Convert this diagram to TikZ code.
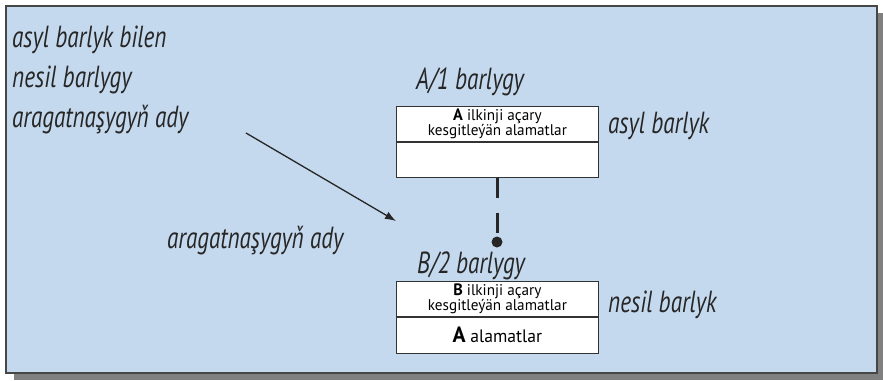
\documentclass[tikz,border=0pt]{standalone}
\usepackage{fontspec}
\setmainfont{PT Sans}[FakeStretch=0.76]
\newfontfamily\boxfont{PT Sans}[FakeStretch=0.98]
\usepackage{tikz}
\usetikzlibrary{arrows.meta,positioning}
\definecolor{panelblue}{RGB}{197,217,238}
\definecolor{shadowgray}{RGB}{128,128,128}
\definecolor{edgegray}{RGB}{70,70,70}
\tikzset{
  bigtxt/.style={font=\fontsize{30.5}{34}\selectfont\itshape, text=black!85, inner sep=0pt},
  keybox/.style={draw=black!80, fill=white, line width=0.8pt, minimum width=202pt, minimum height=35pt, inner sep=0pt, align=center, font=\boxfont\fontsize{15.5}{13.5}\selectfont},
  attrbox/.style={keybox, minimum height=36pt, font=\boxfont\fontsize{18}{18}\selectfont},
  arrow/.style={-{Latex[length=11pt,width=8pt]}, line width=1.3pt, black!85},
  link/.style={line width=3pt, black!85, dash pattern=on 20pt off 15pt},
  dot/.style={circle, fill=black!85, minimum size=11pt, inner sep=0pt}
}

\begin{document}
\begin{tikzpicture}[x=1pt, y=-1pt]
\useasboundingbox (0,0) rectangle (883,380);
% panel
\fill[shadowgray] (14,13) rectangle (883,380);
\draw[edgegray, fill=panelblue, line width=1.5pt] (6,6) rectangle (877,373);
% left texts
\node[bigtxt, anchor=base west] (t1) at (12,47) {asyl barlyk bilen};
\node[bigtxt, anchor=base west] (t2) at (12,87) {nesil barlygy};
\node[bigtxt, anchor=base west] (t3) at (12,127) {aragatnaşygyň ady};
\node[bigtxt, anchor=base west] (rel) at (167,248) {aragatnaşygyň ady};
% upper entity
\node[keybox, anchor=north west] (akey) at (396,106) {{\bfseries\fontsize{16.5}{13}\selectfont A} ilkinji açary\\kesgitleýän alamatlar};
\node[keybox, anchor=north] (abody) at (akey.south) {};
\node[bigtxt, anchor=base] (aname) at (470,89) {A/1 barlygy};
\node[bigtxt, anchor=west] (arole) at (608,126) {asyl barlyk};
% lower entity
\node[keybox, anchor=north west] (bkey) at (396,281) {{\bfseries\fontsize{16.5}{13}\selectfont B} ilkinji açary\\kesgitleýän alamatlar};
\node[attrbox, anchor=north] (battr) at (bkey.south) {{\bfseries\fontsize{22}{18}\selectfont A} alamatlar};
\node[bigtxt, anchor=base] (bname) at (471,273) {B/2 barlygy};
\node[bigtxt, anchor=west] (brole) at (608,305) {nesil barlyk};
% relationship
\node[dot] (end) at (497,242) {};
\draw[link] (abody.south -| end) -- (end.center);
\coordinate (arrstart) at (246,133);
\coordinate (arrend) at (396,221);
\draw[arrow] (arrstart) -- (arrend);
\end{tikzpicture}
\end{document}
